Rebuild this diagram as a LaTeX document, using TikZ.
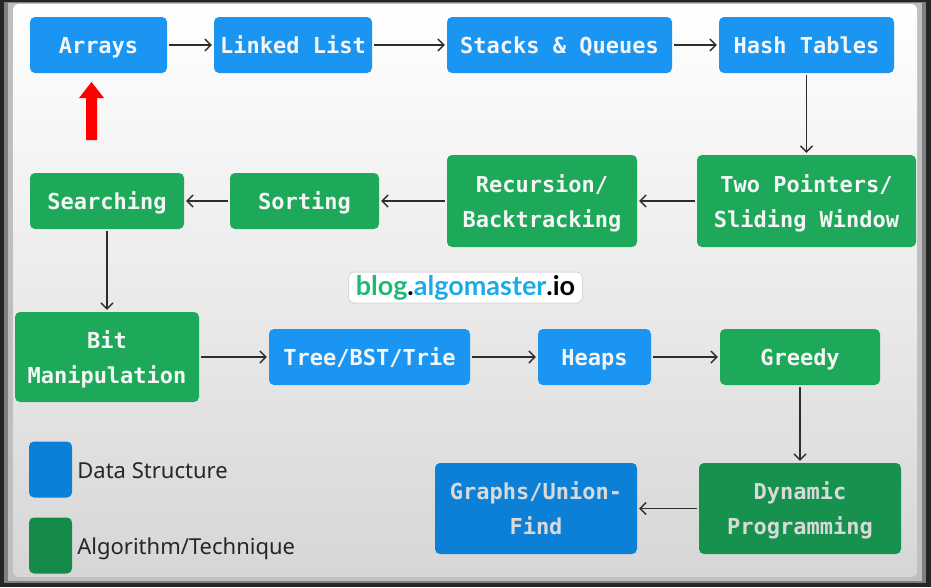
\documentclass[tikz,border=0pt]{standalone}
\usepackage{fontspec}
\setmonofont{DejaVu Sans Mono}
\setsansfont{Noto Sans}
\newfontfamily\brandfont{Lato}
\usetikzlibrary{arrows.meta}

\definecolor{dsblue}{RGB}{26,150,242}
\definecolor{dsbluedark}{RGB}{12,128,214}
\definecolor{algogreen}{RGB}{30,168,90}
\definecolor{algogreendark}{RGB}{22,146,78}
\definecolor{linkgray}{RGB}{45,45,45}
\definecolor{brandgreen}{RGB}{32,185,120}
\definecolor{brandblue}{RGB}{30,170,230}

\tikzset{
  topic/.style={rounded corners=5pt, inner sep=0pt, align=center, text=white!96!black,
    text depth=0pt, font=\ttfamily\bfseries\fontsize{22}{35}\selectfont},
  dsbox/.style={topic, fill=dsblue},
  algobox/.style={topic, fill=algogreen},
  keybox/.style={rounded corners=5pt, minimum width=43pt, minimum height=56pt, inner sep=0pt},
  keytext/.style={anchor=base west, inner sep=0pt, text=black!85,
    font=\sffamily\fontsize{22}{28}\selectfont},
  link/.style={draw=linkgray, line width=1.4pt, -{Straight Barb[length=6pt,width=12pt]},
    shorten >=2pt, shorten <=2pt},
}

\begin{document}
\begin{tikzpicture}[x=1pt, y=-1pt]

  % Frame and background
  \useasboundingbox (0,0) rectangle (931,587);
  \fill[black!85] (0,0) rectangle (931,587);
  \fill[black!50] (4,2) rectangle (926,583);
  \fill[black!25] (8,3) rectangle (922,581);
  \shade[top color=white, bottom color=black!16, rounded corners=6pt] (13,4) rectangle (917,577);

  % First row: data structures
  \node[dsbox, minimum width=137pt, minimum height=56pt] (arrays) at (98.5,45) {Arrays};
  \node[dsbox, minimum width=158pt, minimum height=56pt] (list) at (293,45) {Linked List};
  \node[dsbox, minimum width=225pt, minimum height=56pt] (stacks) at (559.5,45) {Stacks \& Queues};
  \node[dsbox, minimum width=175pt, minimum height=56pt] (hash) at (806.5,45) {Hash Tables};

  % Red marker under Arrays
  \fill[red] (91.5,82) -- (104,98) -- (97,98) -- (97,140) -- (86,140) -- (86,98) -- (79,98) -- cycle;

  % Second row: techniques
  \node[algobox, minimum width=219pt, minimum height=92pt] (twoptr) at (806.5,201) {Two Pointers/\\Sliding Window};
  \node[algobox, minimum width=190pt, minimum height=92pt] (recursion) at (542,201) {Recursion/\\Backtracking};
  \node[algobox, minimum width=149pt, minimum height=56pt] (sorting) at (304.5,201) {Sorting};
  \node[algobox, minimum width=154pt, minimum height=56pt] (searching) at (107,201) {Searching};

  % Site name
  \node[fill=white, draw=black!15, line width=1pt, rounded corners=6pt,
    minimum width=234pt, minimum height=31pt, inner sep=0pt,
    font=\brandfont\bfseries\fontsize{27}{30}\selectfont] (site) at (465.5,287.5)
    {\textcolor{brandgreen}{blog}.\textcolor{brandblue}{algomaster}.io};

  % Third row
  \node[algobox, minimum width=184pt, minimum height=90pt] (bits) at (107,357) {Bit\\Manipulation};
  \node[dsbox, minimum width=201pt, minimum height=56pt] (tree) at (369.5,357) {Tree/BST/Trie};
  \node[dsbox, minimum width=113pt, minimum height=56pt] (heaps) at (594.5,357) {Heaps};
  \node[algobox, minimum width=160pt, minimum height=56pt] (greedy) at (800,357) {Greedy};

  % Fourth row
  \node[algobox, fill=algogreendark, text=white!85!black, minimum width=202pt, minimum height=91pt]
    (dp) at (800,508.5) {Dynamic\\Programming};
  \node[dsbox, fill=dsbluedark, text=white!85!black, minimum width=202pt, minimum height=91pt]
    (graphs) at (536,508.5) {Graphs/Union-\\Find};

  % Legend
  \node[keybox, fill=dsbluedark] (dskey) at (50.5,469.5) {};
  \node[keytext] (dslabel) at ([xshift=5pt, yshift=-8.5pt]dskey.east) {Data Structure};
  \node[keybox, fill=algogreendark!95!black] (algokey) at (50.5,545.5) {};
  \node[keytext] (algolabel) at ([xshift=5pt, yshift=-8.5pt]algokey.east) {Algorithm/Technique};

  % Connectors along the path
  \draw[link] (arrays) -- (list);
  \draw[link] (list) -- (stacks);
  \draw[link] (stacks) -- (hash);
  \draw[link] (hash) -- (twoptr);
  \draw[link] (twoptr) -- (recursion);
  \draw[link] (recursion) -- (sorting);
  \draw[link] (sorting) -- (searching);
  \draw[link] (searching) -- (bits);
  \draw[link] (bits) -- (tree);
  \draw[link] (tree) -- (heaps);
  \draw[link] (heaps) -- (greedy);
  \draw[link] (greedy) -- (dp);
  \draw[link] (dp) -- (graphs);

\end{tikzpicture}
\end{document}
